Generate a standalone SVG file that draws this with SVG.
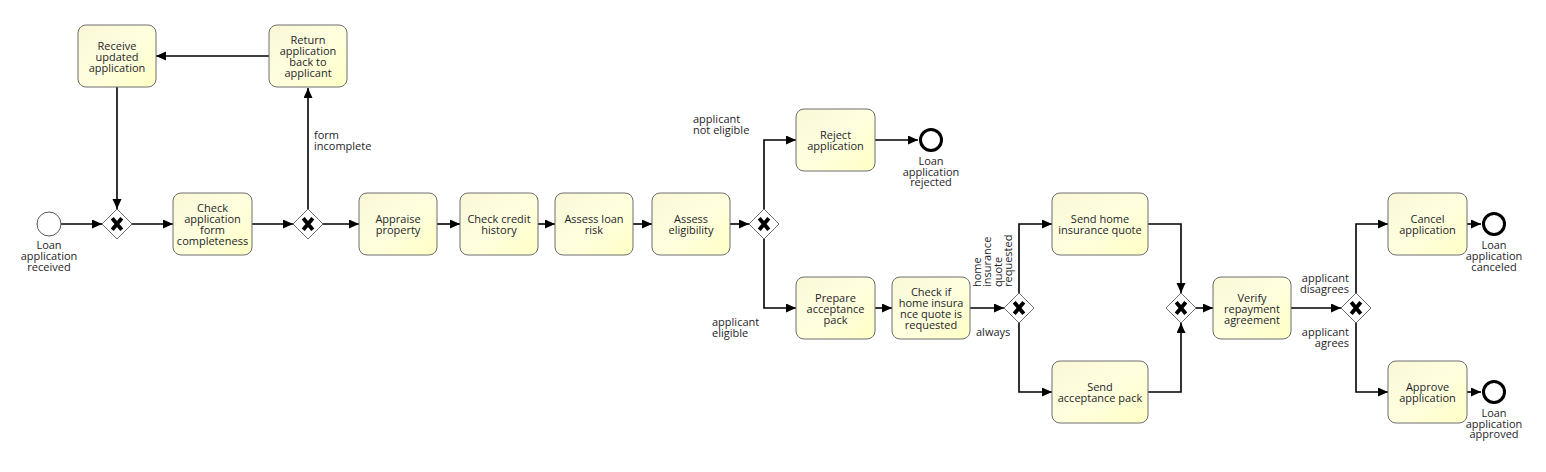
<svg xmlns="http://www.w3.org/2000/svg" width="1546" height="472" viewBox="0 0 1546 472">
<defs>
<linearGradient id="taskFill" x1="0" y1="0" x2="1" y2="1">
<stop offset="0" stop-color="#f9f7d6"/>
<stop offset="0.5" stop-color="#ffffe0"/>
<stop offset="1" stop-color="#ffffc4"/>
</linearGradient>
<marker id="arrow" markerUnits="userSpaceOnUse" markerWidth="11" markerHeight="10" refX="10" refY="4.5" orient="auto">
<path d="M0,0 L10,4.5 L0,9 z" fill="#000"/>
</marker>
<g id="xmark">
<path d="M-4.8,-5.8 L4.8,5.8 M4.8,-5.8 L-4.8,5.8" stroke="#000" stroke-width="3.9" fill="none"/>
</g>
</defs>
<style>
.task{fill:url(#taskFill);stroke:#6e6e6e;stroke-width:1}
.gw{fill:#fff;stroke:#6e6e6e;stroke-width:1}
.start{fill:#fff;stroke:#555;stroke-width:1}
.end{fill:#fff;stroke:#000;stroke-width:3}
.t{font-family:"Open Sans","DejaVu Sans",sans-serif;font-size:11px;fill:#1e1e28}
.c{text-anchor:middle}
.r{text-anchor:end}
.flow{fill:none;stroke:#000;stroke-width:1.6;marker-end:url(#arrow)}
</style>
<rect width="1546" height="472" fill="#fff"/>

<g id="connectors">
<path class="flow" d="M61,224 H102"/>
<path class="flow" d="M132,224 H173"/>
<path class="flow" d="M252,224 H293"/>
<path class="flow" d="M323,224 H359"/>
<path class="flow" d="M308,209 V88"/>
<path class="flow" d="M269,56 H156"/>
<path class="flow" d="M117,87 V209"/>
<path class="flow" d="M437,224 H460"/>
<path class="flow" d="M538,224 H555"/>
<path class="flow" d="M633,224 H652"/>
<path class="flow" d="M730,224 H749"/>
<path class="flow" d="M764,209 V140 H796"/>
<path class="flow" d="M875,140 H918"/>
<path class="flow" d="M764,239 V308 H796"/>
<path class="flow" d="M875,308 H892"/>
<path class="flow" d="M970,308 H1004"/>
<path class="flow" d="M1019,293 V224 H1052"/>
<path class="flow" d="M1019,323 V392 H1052"/>
<path class="flow" d="M1148,224 H1181 V293"/>
<path class="flow" d="M1148,392 H1181 V323"/>
<path class="flow" d="M1196,308 H1213"/>
<path class="flow" d="M1291,308 H1341"/>
<path class="flow" d="M1356,293 V224 H1388"/>
<path class="flow" d="M1356,323 V392 H1388"/>
<path class="flow" d="M1467,224 H1481"/>
<path class="flow" d="M1467,392 H1481"/>
<text class="t"><tspan x="314" y="139">form</tspan><tspan x="314" y="150">incomplete</tspan></text>
<text class="t"><tspan x="693" y="123">applicant</tspan><tspan x="693" y="134">not eligible</tspan></text>
<text class="t"><tspan x="712" y="326">applicant</tspan><tspan x="712" y="337">eligible</tspan></text>
<text class="t" transform="translate(980.5,287) rotate(-90)"><tspan x="0" y="0">home</tspan><tspan x="0" y="10.5">insurance</tspan><tspan x="0" y="21">quote</tspan><tspan x="0" y="31.5">requested</tspan></text>
<text class="t" x="976" y="335.5">always</text>
<text class="t r"><tspan x="1349" y="282">applicant</tspan><tspan x="1349" y="292.5">disagrees</tspan></text>
<text class="t r"><tspan x="1349" y="335.5">applicant</tspan><tspan x="1349" y="346.5">agrees</tspan></text>
</g>

<g id="start">
<circle class="start" cx="49" cy="224" r="12"/>
<text class="t c"><tspan x="49" y="249">Loan</tspan><tspan x="49" y="260">application</tspan><tspan x="49" y="270.5">received</tspan></text>
</g>

<g id="gw1"><path class="gw" d="M117,209 L132,224 L117,239 L102,224 z"/><use href="#xmark" x="117" y="224"/></g>
<g id="gw2"><path class="gw" d="M308,209 L323,224 L308,239 L293,224 z"/><use href="#xmark" x="308" y="224"/></g>
<g id="gw3"><path class="gw" d="M764,209 L779,224 L764,239 L749,224 z"/><use href="#xmark" x="764" y="224"/></g>
<g id="gw4"><path class="gw" d="M1019,293 L1034,308 L1019,323 L1004,308 z"/><use href="#xmark" x="1019" y="308"/></g>
<g id="gw5"><path class="gw" d="M1181,293 L1196,308 L1181,323 L1166,308 z"/><use href="#xmark" x="1181" y="308"/></g>
<g id="gw6"><path class="gw" d="M1356,293 L1371,308 L1356,323 L1341,308 z"/><use href="#xmark" x="1356" y="308"/></g>

<g id="receive">
<rect class="task" x="78" y="25" width="78" height="62" rx="8"/>
<text class="t c"><tspan x="117" y="49.5">Receive</tspan><tspan x="117" y="60.5">updated</tspan><tspan x="117" y="71.5">application</tspan></text>
</g>
<g id="return">
<rect class="task" x="269" y="25" width="78" height="62" rx="8"/>
<text class="t c"><tspan x="308" y="44">Return</tspan><tspan x="308" y="55">application</tspan><tspan x="308" y="66">back to</tspan><tspan x="308" y="77">applicant</tspan></text>
</g>
<g id="checkForm">
<rect class="task" x="173" y="193" width="79" height="62" rx="8"/>
<text class="t c"><tspan x="212.5" y="212">Check</tspan><tspan x="212.5" y="223">application</tspan><tspan x="212.5" y="234">form</tspan><tspan x="212.5" y="245">completeness</tspan></text>
</g>
<g id="appraise">
<rect class="task" x="359" y="193" width="78" height="62" rx="8"/>
<text class="t c"><tspan x="398" y="223">Appraise</tspan><tspan x="398" y="234">property</tspan></text>
</g>
<g id="credit">
<rect class="task" x="460" y="193" width="78" height="62" rx="8"/>
<text class="t c"><tspan x="499" y="223">Check credit</tspan><tspan x="499" y="234">history</tspan></text>
</g>
<g id="risk">
<rect class="task" x="555" y="193" width="78" height="62" rx="8"/>
<text class="t c"><tspan x="594" y="223">Assess loan</tspan><tspan x="594" y="234">risk</tspan></text>
</g>
<g id="eligibility">
<rect class="task" x="652" y="193" width="78" height="62" rx="8"/>
<text class="t c"><tspan x="691" y="223">Assess</tspan><tspan x="691" y="234">eligibility</tspan></text>
</g>
<g id="reject">
<rect class="task" x="796" y="109" width="79" height="62" rx="8"/>
<text class="t c"><tspan x="835.5" y="139">Reject</tspan><tspan x="835.5" y="150">application</tspan></text>
</g>
<g id="endRejected">
<circle class="end" cx="931" cy="140" r="10.5"/>
<text class="t c"><tspan x="931" y="164.5">Loan</tspan><tspan x="931" y="175.5">application</tspan><tspan x="931" y="186">rejected</tspan></text>
</g>
<g id="prepare">
<rect class="task" x="796" y="277" width="79" height="62" rx="8"/>
<text class="t c"><tspan x="835.5" y="301.5">Prepare</tspan><tspan x="835.5" y="312.5">acceptance</tspan><tspan x="835.5" y="323.5">pack</tspan></text>
</g>
<g id="checkHome">
<rect class="task" x="892" y="277" width="78" height="62" rx="8"/>
<text class="t c"><tspan x="931" y="296">Check if</tspan><tspan x="931" y="307">home insura</tspan><tspan x="931" y="318">nce quote is</tspan><tspan x="931" y="329">requested</tspan></text>
</g>
<g id="sendHome">
<rect class="task" x="1052" y="193" width="96" height="62" rx="8"/>
<text class="t c"><tspan x="1100" y="223">Send home</tspan><tspan x="1100" y="234">insurance quote</tspan></text>
</g>
<g id="sendPack">
<rect class="task" x="1052" y="361" width="96" height="62" rx="8"/>
<text class="t c"><tspan x="1100" y="391">Send</tspan><tspan x="1100" y="402">acceptance pack</tspan></text>
</g>
<g id="verify">
<rect class="task" x="1213" y="277" width="78" height="62" rx="8"/>
<text class="t c"><tspan x="1252" y="301.5">Verify</tspan><tspan x="1252" y="312.5">repayment</tspan><tspan x="1252" y="323.5">agreement</tspan></text>
</g>
<g id="cancel">
<rect class="task" x="1388" y="193" width="79" height="62" rx="8"/>
<text class="t c"><tspan x="1427.5" y="223">Cancel</tspan><tspan x="1427.5" y="234">application</tspan></text>
</g>
<g id="endCanceled">
<circle class="end" cx="1494" cy="224" r="10.5"/>
<text class="t c"><tspan x="1494" y="249">Loan</tspan><tspan x="1494" y="260">application</tspan><tspan x="1494" y="270.5">canceled</tspan></text>
</g>
<g id="approve">
<rect class="task" x="1388" y="361" width="79" height="62" rx="8"/>
<text class="t c"><tspan x="1427.5" y="391">Approve</tspan><tspan x="1427.5" y="402">application</tspan></text>
</g>
<g id="endApproved">
<circle class="end" cx="1494" cy="392" r="10.5"/>
<text class="t c"><tspan x="1494" y="416.5">Loan</tspan><tspan x="1494" y="427.5">application</tspan><tspan x="1494" y="438">approved</tspan></text>
</g>
</svg>
